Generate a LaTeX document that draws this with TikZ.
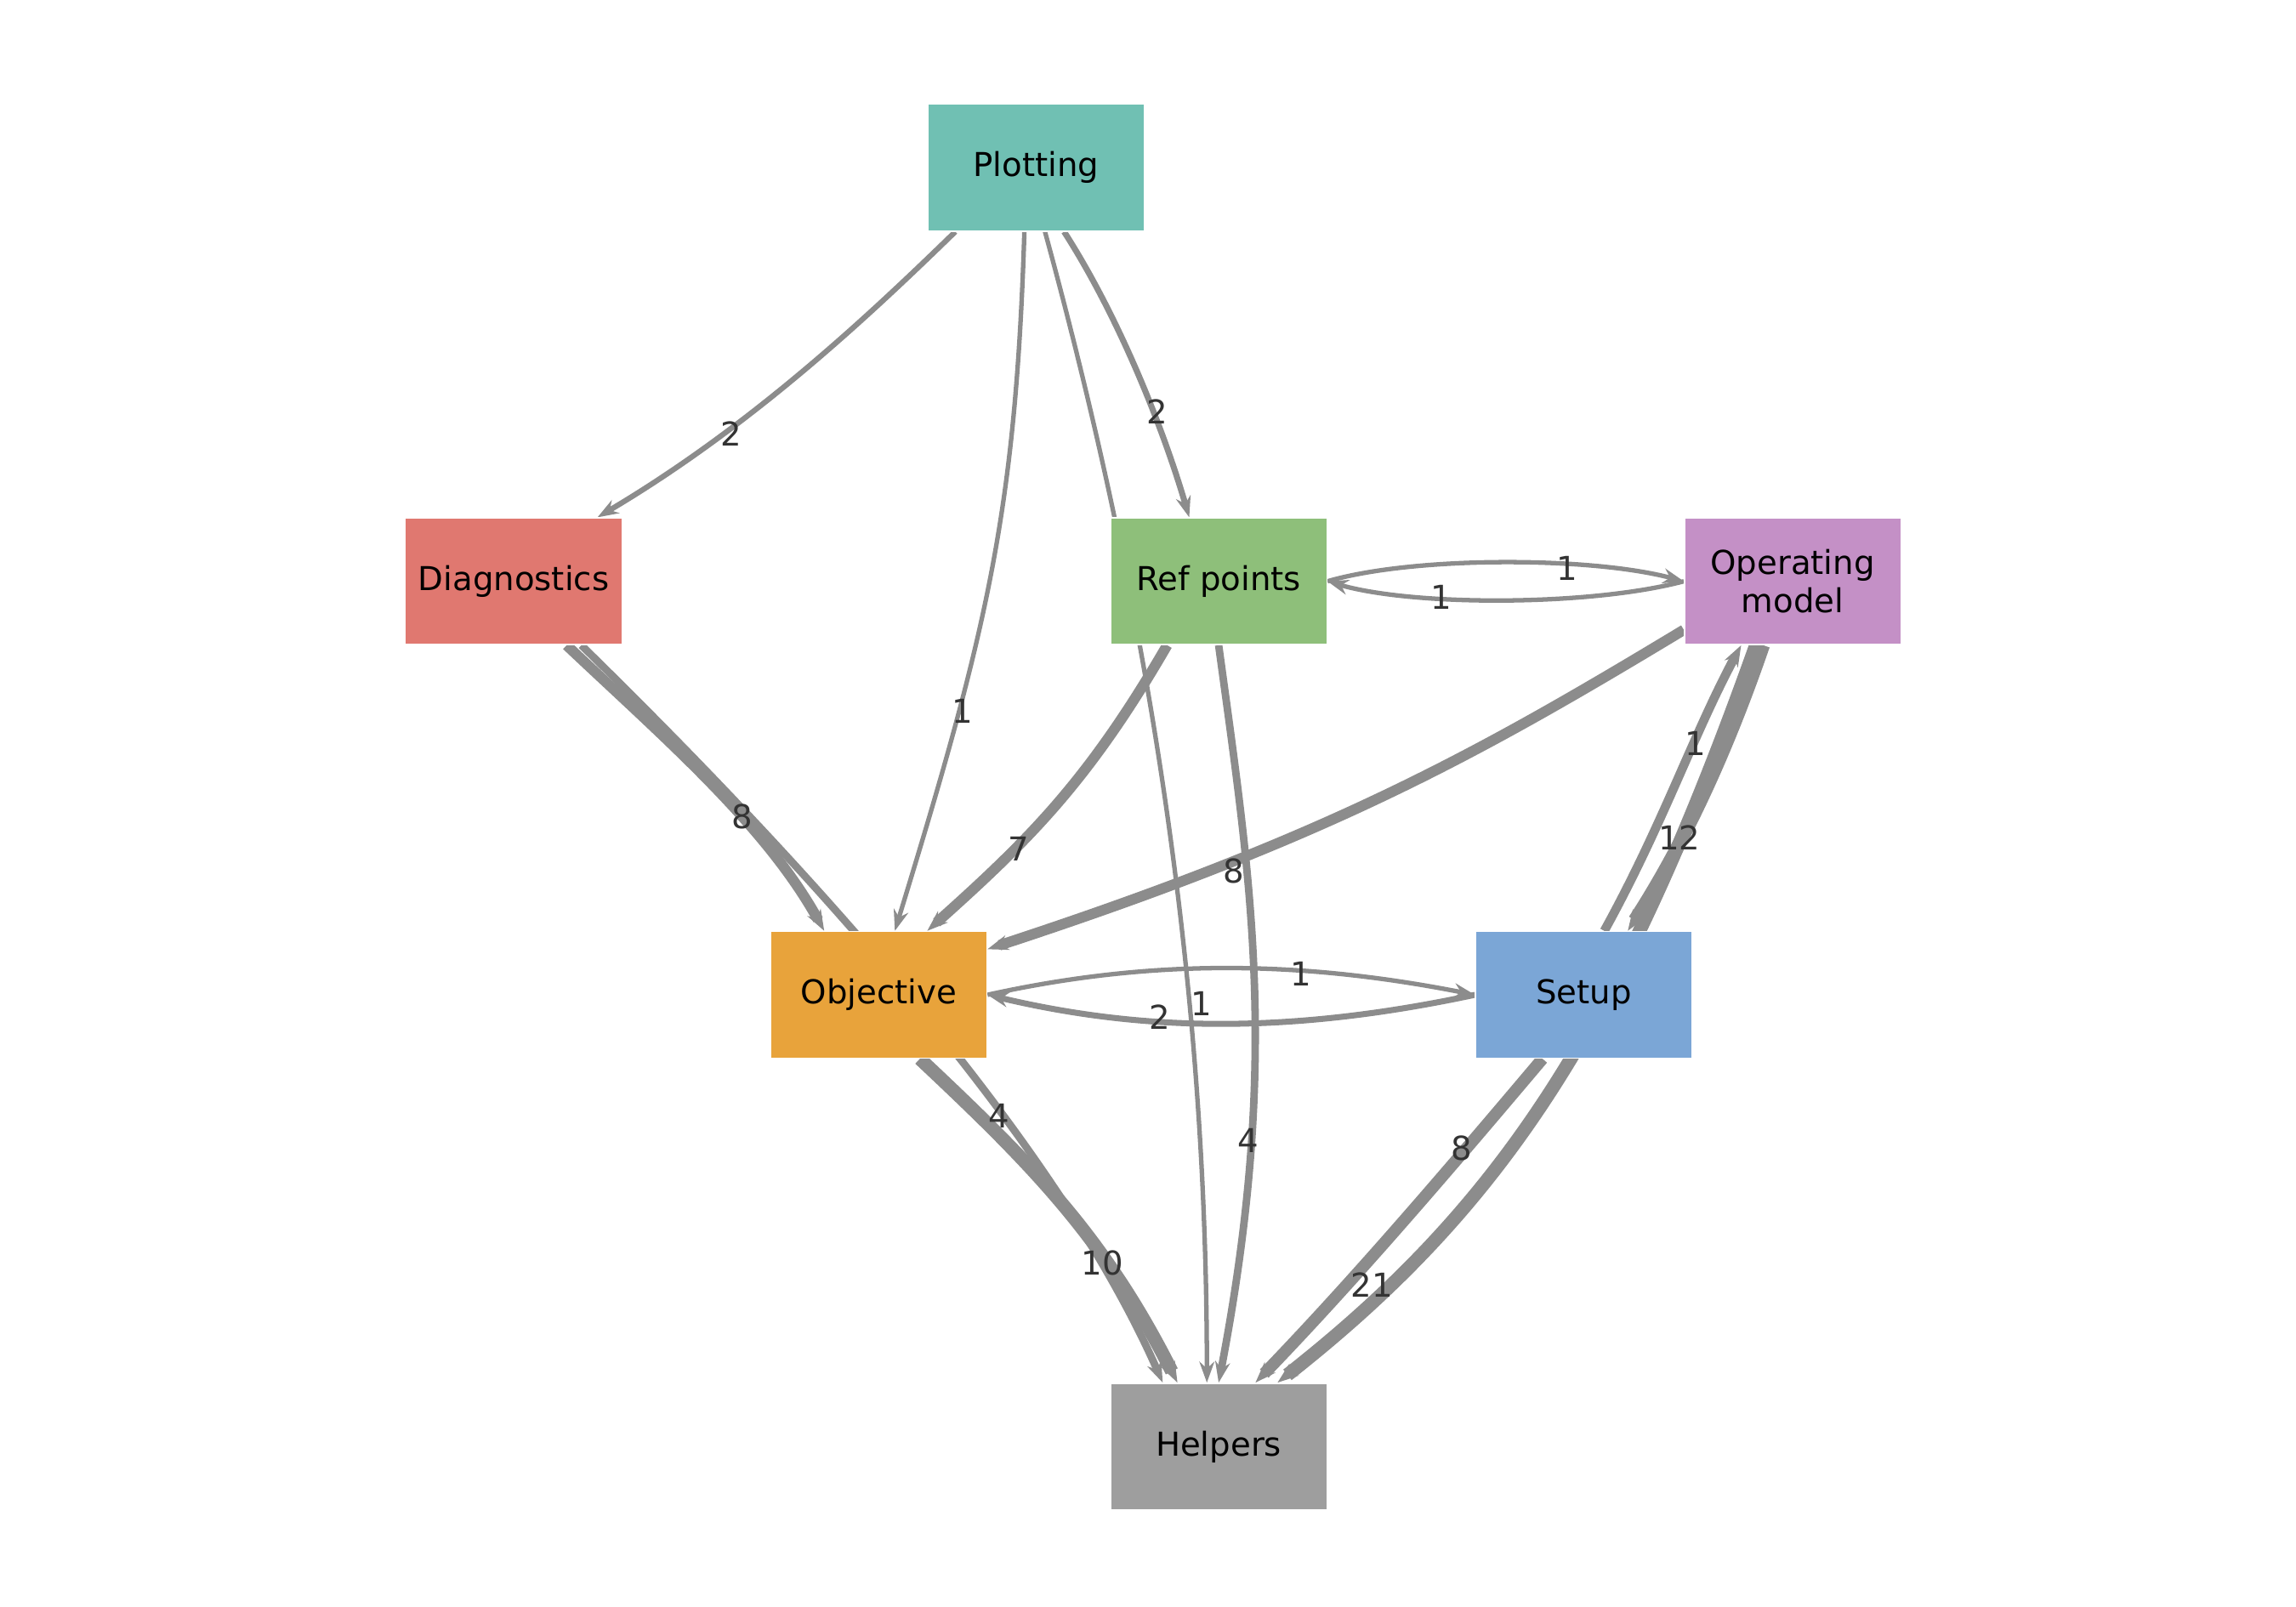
\documentclass[tikz,border=0pt]{standalone}
\usepackage{fontspec}
\setmainfont{DejaVu Sans}
\usetikzlibrary{arrows.meta,backgrounds,calc}
\definecolor{edgegray}{HTML}{8C8C8C}
\definecolor{labelgray}{HTML}{333333}
\tikzset{
  module/.style={
    % box of one module
    rectangle,
    minimum width=2.545cm,
    minimum height=1.49cm,
    draw=white,
    font=\fontsize{11}{13}\selectfont,
    align=center,
  },
  dep/.style={
    draw=edgegray,
    -{Stealth[length=7pt,width=5pt]},
  },
  count/.style={
    font=\fontsize{11}{13}\selectfont,
    text=labelgray,
  }
}
\begin{document}
\begin{tikzpicture}[x=0.01731cm, y=-0.01731cm]

  \useasboundingbox (0, 0) rectangle (1560, 1092);

  \node (plot) [module, fill={rgb,255:red,112;green,192;blue,179}] at (704, 114) {Plotting};
  \node (diag) [module, fill={rgb,255:red,224;green,120;blue,112}] at (349, 395) {Diagnostics};
  \node (refp) [module, fill={rgb,255:red,142;green,191;blue,122}] at (828, 395) {Ref points};
  \node (opmod) [module, fill={rgb,255:red,196;green,144;blue,198}] at (1218, 395) {Operating\\model};
  \node (obj) [module, fill={rgb,255:red,232;green,163;blue,59}] at (597, 676) {Objective};
  \node (setup) [module, fill={rgb,255:red,123;green,166;blue,214}] at (1076, 676) {Setup};
  \node (help) [module, fill={rgb,255:red,158;green,158;blue,158}] at (828, 983) {Helpers};

  \begin{scope}[on background layer]
    % from Plotting
    \draw [dep, line width=1.8pt] ($(plot.south west)+(19, 0)$) .. controls (590, 215) and (510, 290) .. ($(diag.north east)+(-17, 0)$);
    \draw [dep, line width=1.5pt] ($(plot.south)+(-8, 0)$) .. controls (690, 350) and (670, 430) .. ($(obj.north)+(11, 0)$);
    \draw [dep, line width=1.5pt] ($(plot.south)+(6, 0)$) .. controls (790, 450) and (820, 700) .. ($(help.north)+(-8, 0)$);
    \draw [dep, line width=2pt] ($(plot.south)+(19, 0)$) .. controls (760, 215) and (790, 290) .. ($(refp.north)+(-20, 0)$);
    % Ref points <-> Operating model
    \draw [dep, line width=1.5pt] (refp.east) .. controls (960, 378) and (1080, 378) .. (opmod.west);
    \draw [dep, line width=1.5pt] (opmod.west) .. controls (1080, 412) and (960, 412) .. (refp.east);
    % from Diagnostics
    \draw [dep, line width=3.5pt] ($(diag.south)+(36, 0)$) .. controls (450, 500) and (520, 560) .. ($(obj.north)+(-37, 0)$);
    \draw [dep, line width=2.5pt] ($(diag.south)+(46, 0)$) .. controls (560, 600) and (720, 780) .. ($(help.north)+(-38, 0)$);
    % into Objective
    \draw [dep, line width=3.5pt] ($(refp.south)+(-35, 0)$) .. controls (740, 530) and (700, 570) .. ($(obj.north)+(33, 0)$);
    \draw [dep, line width=3.5pt] ($(opmod.west)+(0, 33)$) .. controls (1000, 515) and (900, 570) .. ($(obj.east)+(0, -31)$);
    % Ref points -> Helpers
    \draw [dep, line width=2.5pt] (refp.south) .. controls (850, 600) and (870, 720) .. (help.north);
    % Objective <-> Setup
    \draw [dep, line width=1.5pt] (obj.east) .. controls (780, 652) and (880, 652) .. (setup.west);
    \draw [dep, line width=2pt] (setup.west) .. controls (880, 702) and (780, 702) .. (obj.east);
    % Operating model <-> Setup
    \draw [dep, line width=3pt] ($(setup.north)+(14, 0)$) .. controls (1130, 560) and (1150, 500) .. ($(opmod.south)+(-35, 0)$);
    \draw [dep, line width=4.5pt] ($(opmod.south)+(-20, 0)$) .. controls (1170, 520) and (1140, 580) .. ($(setup.north)+(30, 0)$);
    % into Helpers
    \draw [dep, line width=4.5pt] ($(obj.south)+(28, 0)$) .. controls (700, 790) and (750, 840) .. ($(help.north)+(-28, 0)$);
    \draw [dep, line width=4pt] ($(setup.south)+(-28, 0)$) .. controls (980, 800) and (920, 870) .. ($(help.north)+(25, 0)$);
    \draw [dep, line width=4.5pt] ($(opmod.south)+(-25, 0)$) .. controls (1100, 700) and (1020, 820) .. ($(help.north)+(40, 0)$);
  \end{scope}

  % counts
  \node (c1) [count] at (497, 295) {2};
  \node (c2) [count] at (654, 483) {1};
  \node (c3) [count] at (816, 682) {1};
  \node (c4) [count] at (786, 280) {2};
  \node (c5) [count] at (1065, 386) {1};
  \node (c6) [count] at (979, 406) {1};
  \node (c7) [count] at (504, 555) {8};
  \node (c8) [count] at (679, 758) {4};
  \node (c9) [count] at (692, 577) {7};
  \node (c10) [count] at (838, 592) {8};
  \node (c11) [count] at (848, 775) {4};
  \node (c12) [count] at (884, 662) {1};
  \node (c13) [count] at (788, 691) {2};
  \node (c14) [count] at (1152, 505) {1};
  \node (c15) [count] at (1141, 569) {12};
  \node (c16) [count] at (749, 858) {10};
  \node (c17) [count] at (993, 780) {8};
  \node (c18) [count] at (932, 873) {21};

\end{tikzpicture}
\end{document}
